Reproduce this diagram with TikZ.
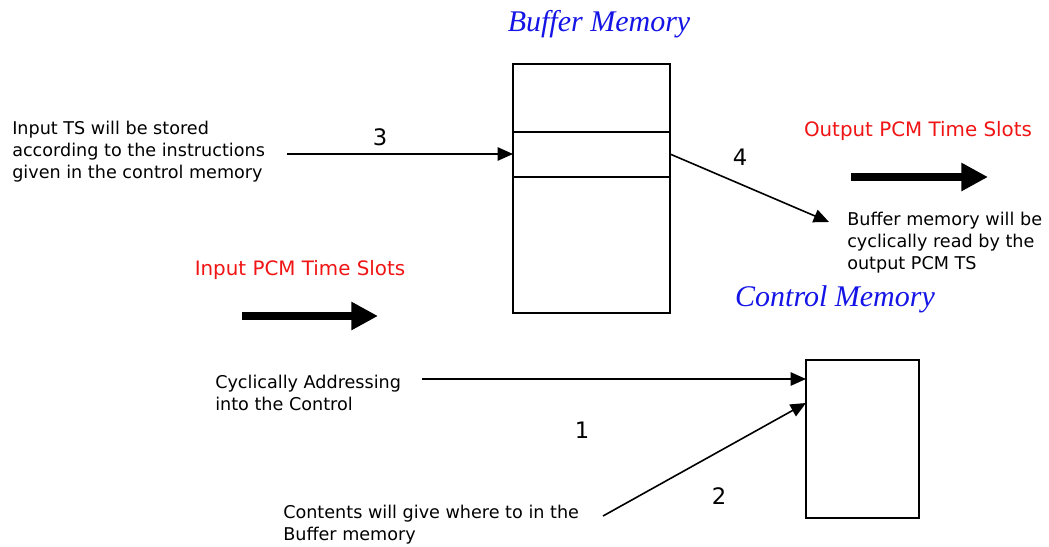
\documentclass[tikz,border=0pt]{standalone}
\usepackage{fontspec}
\setmainfont{DejaVu Sans}
\newfontfamily\titlefont{Liberation Serif}
\usetikzlibrary{arrows.meta}
\definecolor{ttlblue}{RGB}{20,20,230}
\definecolor{lblred}{RGB}{240,20,20}
\begin{document}
\begin{tikzpicture}[x=0.75pt,y=-0.75pt,
  conn/.style={line width=1.2pt,-{Triangle[length=11.5pt,width=10pt]}},
  fat/.style={line width=6pt,-{Triangle[length=20pt,width=20pt]}},
  small/.style={font=\fontsize{13.2}{16.5}\selectfont,align=left,inner sep=0pt},
  red/.style={font=\fontsize{14.9}{17}\selectfont,text=lblred,inner sep=0pt},
  num/.style={font=\fontsize{17}{19}\selectfont,inner sep=0pt},
  ttl/.style={font=\titlefont\itshape\fontsize{22.5}{25}\selectfont,text=ttlblue,inner sep=0pt}]
\useasboundingbox (0,0) rectangle (1049,546);
% buffer memory
\draw[line width=1.2pt] (513,64) rectangle (670,313);
\draw[line width=1.2pt] (513,132) -- (670,132);
\draw[line width=1.2pt] (513,177) -- (670,177);
\coordinate (bufin) at (513,154);
\coordinate (bufout) at (670,154);
% control memory
\draw[line width=1.2pt] (806,360) rectangle (919,518);
\coordinate (ctl1) at (806,379);
\coordinate (ctl2) at (806,403);
% titles
\node[ttl] (tbuf) at (599,24) {Buffer Memory};
\node[ttl] (tctl) at (835,299) {Control Memory};
% texts
\node[small,anchor=west] (t3) at (12,152) {Input TS will be stored\\according to the instructions\\given in the control memory};
\node[small,anchor=west] (t4) at (847,243) {Buffer memory will be\\cyclically read by the\\output PCM TS};
\node[small,anchor=west] (t1) at (215,393) {Cyclically Addressing\\into the Control};
\node[small,anchor=west] (t2) at (283,525) {Contents will give where to in the\\Buffer memory};
\node[red] (rout) at (918,131) {Output PCM Time Slots};
\node[red] (rin) at (300,270) {Input PCM Time Slots};
% numbers
\node[num] (n3) at (380,137) {3};
\node[num] (n4) at (740,157) {4};
\node[num] (n1) at (582,430) {1};
\node[num] (n2) at (719,496) {2};
% connectors
\coordinate (s3) at (287,154);
\coordinate (e4) at (829,222);
\coordinate (s1) at (422,379);
\coordinate (s2) at (603,516);
\draw[conn] (s3) -- (bufin);
\draw[conn] (bufout) -- (e4);
\draw[conn] (s1) -- (ctl1);
\draw[conn] (s2) -- (ctl2);
% thick arrows
\coordinate (fa1) at (242,316);
\coordinate (fb1) at (378,316);
\coordinate (fa2) at (851,177);
\coordinate (fb2) at (988,177);
\draw[fat] (fa1) -- (fb1);
\draw[fat] (fa2) -- (fb2);
\end{tikzpicture}
\end{document}
